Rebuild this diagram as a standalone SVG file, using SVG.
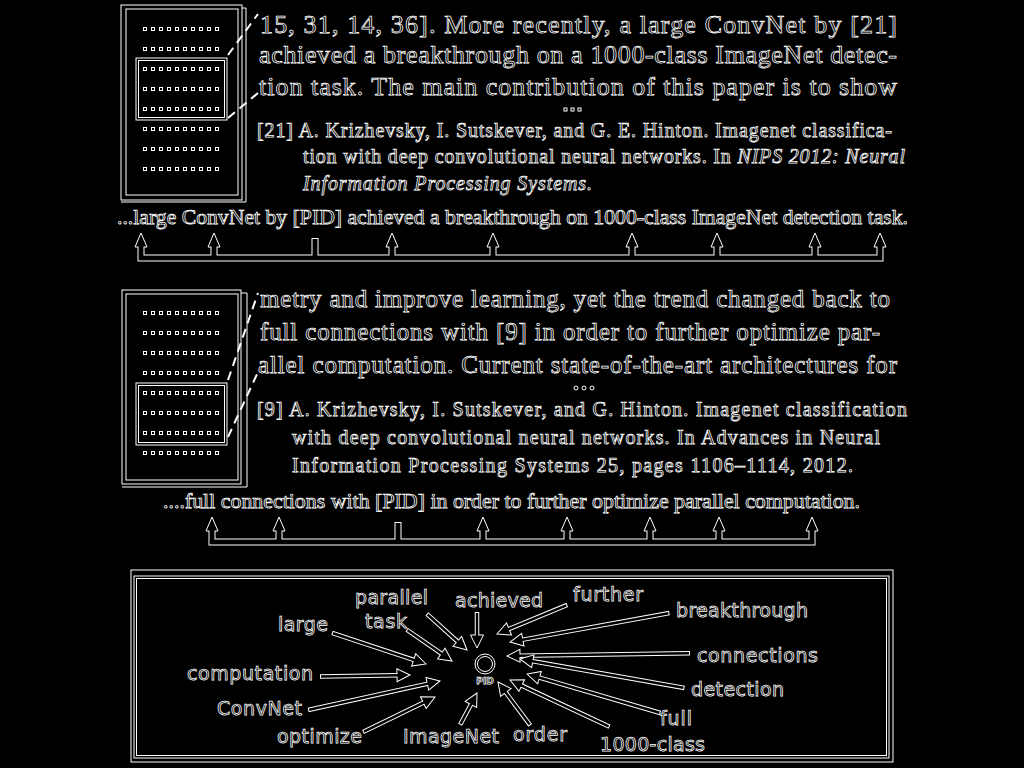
<svg xmlns="http://www.w3.org/2000/svg" width="1024" height="768" viewBox="0 0 1024 768">
<style>
.o{fill:#000;stroke:#fff;stroke-width:0.75}
.ser{font-family:"Liberation Serif","Times New Roman",serif}
.san{font-family:"DejaVu Sans","Liberation Sans",sans-serif;font-size:19px}
.ln{fill:none;stroke:#fff;stroke-width:1}
.dash{fill:none;stroke:#fff;stroke-width:2;stroke-dasharray:9 6}
.aw{stroke:#fff;stroke-width:4.5}
.ab{stroke:#000;stroke-width:2.5}
.ah{fill:#000;stroke:#fff;stroke-width:1}
.bw{fill:none;stroke:#fff;stroke-width:7}
.bb{fill:none;stroke:#000;stroke-width:5}
</style>
<defs>
<pattern id="dots1" x="143" y="27" width="8" height="20" patternUnits="userSpaceOnUse"><rect x="0.5" y="0.5" width="3" height="3" class="ln" stroke-width="0.8"/></pattern>
<pattern id="dots2" x="143" y="311" width="8" height="20" patternUnits="userSpaceOnUse"><rect x="0.5" y="0.5" width="3" height="3" class="ln" stroke-width="0.8"/></pattern>
</defs>
<rect width="1024" height="768" fill="#000"/>

<g id="thumb1">
<rect x="121" y="5" width="121" height="195" class="ln"/>
<rect x="126" y="9" width="112" height="186" class="ln"/>
<path d="M242,8 H246 V202 H121" class="ln"/>
<rect x="143" y="27" width="80" height="160" fill="url(#dots1)"/>
<rect x="136" y="58" width="91" height="62" class="ln"/>
<rect x="138.5" y="60.5" width="86" height="57" class="ln"/>
<line x1="228" y1="55" x2="258" y2="14" class="dash"/>
<line x1="228" y1="118" x2="258" y2="93" class="dash"/>
</g>

<g id="para1" class="ser o">
<text x="260" y="33" font-size="26" textLength="637" lengthAdjust="spacing">15, 31, 14, 36]. More recently, a large ConvNet by [21]</text>
<text x="259" y="63" font-size="26" textLength="638" lengthAdjust="spacing">achieved a breakthrough on a 1000-class ImageNet detec-</text>
<text x="259" y="95" font-size="26" textLength="638" lengthAdjust="spacing">tion task. The main contribution of this paper is to show</text>
<rect x="564" y="108" width="3" height="3" class="ln"/><rect x="571" y="108" width="3" height="3" class="ln"/><rect x="578" y="108" width="3" height="3" class="ln"/>
<text x="257" y="137" font-size="20" textLength="635" lengthAdjust="spacing">[21] A. Krizhevsky, I. Sutskever, and G. E. Hinton. Imagenet classifica-</text>
<text x="303" y="163" font-size="20" textLength="602" lengthAdjust="spacing">tion with deep convolutional neural networks. In <tspan font-style="italic">NIPS 2012: Neural</tspan></text>
<text x="303" y="190" font-size="20" font-style="italic" textLength="289" lengthAdjust="spacing">Information Processing Systems.</text>
</g>

<g id="caption1" class="ser o">
<text x="117" y="224" font-size="21" textLength="791" lengthAdjust="spacingAndGlyphs">...large ConvNet by [PID] achieved a breakthrough on 1000-class ImageNet detection task.</text>
</g>

<g id="thumb2">
<rect x="122" y="290" width="119" height="194" class="ln"/>
<rect x="126" y="294" width="112" height="186" class="ln"/>
<path d="M241,293 H247 V487 H122" class="ln"/>
<rect x="143" y="311" width="80" height="160" fill="url(#dots2)"/>
<rect x="136" y="383" width="91" height="62" class="ln"/>
<rect x="138.5" y="385.5" width="86" height="57" class="ln"/>
<line x1="228" y1="380" x2="258" y2="293" class="dash"/>
<line x1="228" y1="437" x2="258" y2="372" class="dash"/>
</g>

<g id="para2" class="ser o">
<text x="260" y="307" font-size="25" textLength="630" lengthAdjust="spacing">metry and improve learning, yet the trend changed back to</text>
<text x="260" y="340" font-size="25" textLength="620" lengthAdjust="spacing">full connections with [9] in order to further optimize par-</text>
<text x="258" y="373" font-size="25" textLength="639" lengthAdjust="spacing">allel computation. Current state-of-the-art architectures for</text>
<circle cx="576" cy="388" r="2" class="ln"/><circle cx="584" cy="388" r="2" class="ln"/><circle cx="592" cy="388" r="2" class="ln"/>
<text x="257" y="416" font-size="20" textLength="650" lengthAdjust="spacing">[9] A. Krizhevsky, I. Sutskever, and G. Hinton. Imagenet classification</text>
<text x="292" y="444" font-size="20" textLength="588" lengthAdjust="spacing">with deep convolutional neural networks. In Advances in Neural</text>
<text x="292" y="472" font-size="20" textLength="561" lengthAdjust="spacing">Information Processing Systems 25, pages 1106–1114, 2012.</text>
</g>

<g id="caption2" class="ser o">
<text x="163" y="508" font-size="21" textLength="697" lengthAdjust="spacingAndGlyphs">....full connections with [PID] in order to further optimize parallel computation.</text>
</g>

<g id="frame">
<rect x="131" y="570" width="762" height="192" class="ln"/>
<rect x="134" y="576" width="755" height="182" class="ln"/>
<rect x="136.5" y="578.5" width="750" height="177" class="ln"/>
</g>

<g id="pid">
<circle cx="485" cy="664" r="10" class="ln"/>
<circle cx="485" cy="664" r="7.5" class="ln"/>
<text x="485" y="684" font-size="9" font-weight="bold" text-anchor="middle" class="o" stroke-width="0.6" font-family="DejaVu Sans, sans-serif">PID</text>
</g>

<g id="labels" class="san o">
<g id="n-parallel"><text x="355" y="604" textLength="73">parallel</text></g>
<g id="n-task"><text x="365" y="628" textLength="42">task</text></g>
<g id="n-large"><text x="278" y="631" textLength="50">large</text></g>
<g id="n-computation"><text x="187" y="680" textLength="126">computation</text></g>
<g id="n-convnet"><text x="217" y="715" textLength="85">ConvNet</text></g>
<g id="n-optimize"><text x="277" y="743" textLength="85">optimize</text></g>
<g id="n-imagenet"><text x="403" y="743" textLength="96">ImageNet</text></g>
<g id="n-achieved"><text x="455" y="607" textLength="88">achieved</text></g>
<g id="n-further"><text x="573" y="601" textLength="70">further</text></g>
<g id="n-breakthrough"><text x="676" y="617" textLength="132">breakthrough</text></g>
<g id="n-connections"><text x="697" y="662" textLength="121">connections</text></g>
<g id="n-detection"><text x="691" y="696" textLength="93">detection</text></g>
<g id="n-full"><text x="660" y="725" textLength="32">full</text></g>
<g id="n-order"><text x="513" y="741" textLength="54">order</text></g>
<g id="n-1000class"><text x="600" y="751" textLength="105">1000-class</text></g>
</g>

<g id="connectors">
<g id="bracket1">
<path class="bw" d="M141,247 V258 H880 V247 M214,247 V258 M315,238 V258 M392,247 V258 M493,247 V258 M632,247 V258 M717,247 V258 M815,247 V258"/>
<polygon class="ah" points="141,233 135,247 147,247"/>
<polygon class="ah" points="214,233 208,247 220,247"/>
<polygon class="ah" points="392,233 386,247 398,247"/>
<polygon class="ah" points="493,233 487,247 499,247"/>
<polygon class="ah" points="632,233 626,247 638,247"/>
<polygon class="ah" points="717,233 711,247 723,247"/>
<polygon class="ah" points="815,233 809,247 821,247"/>
<polygon class="ah" points="880,233 874,247 886,247"/>
<path class="bb" d="M141,245 V258 H880 V245 M214,245 V258 M315,239 V258 M392,245 V258 M493,245 V258 M632,245 V258 M717,245 V258 M815,245 V258"/>
</g>
<g id="bracket2">
<path class="bw" d="M212,531 V542 H812 V531 M279,531 V542 M398,522 V542 M483,531 V542 M567,531 V542 M650,531 V542 M719,531 V542"/>
<polygon class="ah" points="212,517 206,531 218,531"/>
<polygon class="ah" points="279,517 273,531 285,531"/>
<polygon class="ah" points="483,517 477,531 489,531"/>
<polygon class="ah" points="567,517 561,531 573,531"/>
<polygon class="ah" points="650,517 644,531 656,531"/>
<polygon class="ah" points="719,517 713,531 725,531"/>
<polygon class="ah" points="812,517 806,531 818,531"/>
<path class="bb" d="M212,529 V542 H812 V529 M279,529 V542 M398,523 V542 M483,529 V542 M567,529 V542 M650,529 V542 M719,529 V542"/>
</g>
<g id="e-large" transform="translate(426,664) rotate(18.3)"><line class="aw" x1="-99" y1="0" x2="-12" y2="0"/><polygon class="ah" points="0,0 -13,-6.5 -13,6.5"/><line class="ab" x1="-98" y1="0" x2="-10" y2="0"/></g>
<g id="e-task" transform="translate(452,661) rotate(34.6)"><line class="aw" x1="-55" y1="0" x2="-12" y2="0"/><polygon class="ah" points="0,0 -13,-6.5 -13,6.5"/><line class="ab" x1="-54" y1="0" x2="-10" y2="0"/></g>
<g id="e-parallel" transform="translate(467,650) rotate(42)"><line class="aw" x1="-54" y1="0" x2="-12" y2="0"/><polygon class="ah" points="0,0 -13,-6.5 -13,6.5"/><line class="ab" x1="-53" y1="0" x2="-10" y2="0"/></g>
<g id="e-achieved" transform="translate(477,648) rotate(90)"><line class="aw" x1="-36" y1="0" x2="-12" y2="0"/><polygon class="ah" points="0,0 -13,-6.5 -13,6.5"/><line class="ab" x1="-35" y1="0" x2="-10" y2="0"/></g>
<g id="e-further" transform="translate(497,634) rotate(157.5)"><line class="aw" x1="-76" y1="0" x2="-12" y2="0"/><polygon class="ah" points="0,0 -13,-6.5 -13,6.5"/><line class="ab" x1="-75" y1="0" x2="-10" y2="0"/></g>
<g id="e-breakthrough" transform="translate(510,642) rotate(169.7)"><line class="aw" x1="-162" y1="0" x2="-12" y2="0"/><polygon class="ah" points="0,0 -13,-6.5 -13,6.5"/><line class="ab" x1="-161" y1="0" x2="-10" y2="0"/></g>
<g id="e-connections" transform="translate(507,656) rotate(179.1)"><line class="aw" x1="-183" y1="0" x2="-12" y2="0"/><polygon class="ah" points="0,0 -13,-6.5 -13,6.5"/><line class="ab" x1="-182" y1="0" x2="-10" y2="0"/></g>
<g id="e-detection" transform="translate(520,659) rotate(190)"><line class="aw" x1="-167" y1="0" x2="-12" y2="0"/><polygon class="ah" points="0,0 -13,-6.5 -13,6.5"/><line class="ab" x1="-166" y1="0" x2="-10" y2="0"/></g>
<g id="e-full" transform="translate(527,674) rotate(196.3)"><line class="aw" x1="-139" y1="0" x2="-12" y2="0"/><polygon class="ah" points="0,0 -13,-6.5 -13,6.5"/><line class="ab" x1="-138" y1="0" x2="-10" y2="0"/></g>
<g id="e-1000class" transform="translate(510,680) rotate(205.2)"><line class="aw" x1="-110" y1="0" x2="-12" y2="0"/><polygon class="ah" points="0,0 -13,-6.5 -13,6.5"/><line class="ab" x1="-109" y1="0" x2="-10" y2="0"/></g>
<g id="e-order" transform="translate(498,682) rotate(233.3)"><line class="aw" x1="-54" y1="0" x2="-12" y2="0"/><polygon class="ah" points="0,0 -13,-6.5 -13,6.5"/><line class="ab" x1="-53" y1="0" x2="-10" y2="0"/></g>
<g id="e-imagenet" transform="translate(477,693) rotate(-62)"><line class="aw" x1="-36" y1="0" x2="-12" y2="0"/><polygon class="ah" points="0,0 -13,-6.5 -13,6.5"/><line class="ab" x1="-35" y1="0" x2="-10" y2="0"/></g>
<g id="e-optimize" transform="translate(435,697) rotate(-25.9)"><line class="aw" x1="-80" y1="0" x2="-12" y2="0"/><polygon class="ah" points="0,0 -13,-6.5 -13,6.5"/><line class="ab" x1="-79" y1="0" x2="-10" y2="0"/></g>
<g id="e-convnet" transform="translate(440,681) rotate(-12.4)"><line class="aw" x1="-135" y1="0" x2="-12" y2="0"/><polygon class="ah" points="0,0 -13,-6.5 -13,6.5"/><line class="ab" x1="-134" y1="0" x2="-10" y2="0"/></g>
<g id="e-computation" transform="translate(410,675) rotate(-1)"><line class="aw" x1="-90" y1="0" x2="-12" y2="0"/><polygon class="ah" points="0,0 -13,-6.5 -13,6.5"/><line class="ab" x1="-89" y1="0" x2="-10" y2="0"/></g>
</g>
</svg>
